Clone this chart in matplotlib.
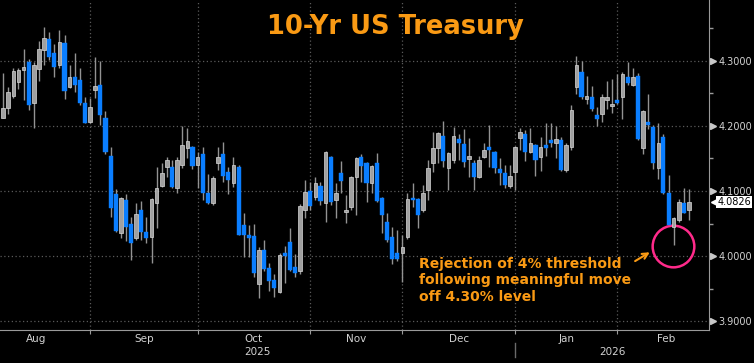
import numpy as np
import matplotlib
matplotlib.use("Agg")
import matplotlib.pyplot as plt
import matplotlib.transforms as mtransforms

# daily candles, 10-yr yield (%)
opens = [4.212, 4.228, 4.246, 4.268, 4.286, 4.298, 4.235, 4.288, 4.317, 4.334,
         4.312, 4.294, 4.328, 4.260, 4.275, 4.271, 4.235, 4.206, 4.255, 4.263,
         4.212, 4.154, 4.095, 4.035, 4.086, 4.049, 4.028, 4.071, 4.037, 4.029,
         4.082, 4.108, 4.137, 4.137, 4.105, 4.140, 4.166, 4.168, 4.140, 4.157,
         4.097, 4.082, 4.143, 4.157, 4.129, 4.112, 4.137, 4.048, 4.032, 4.031,
         3.957, 4.009, 3.982, 3.963, 3.945, 4.005, 4.022, 3.983, 3.977, 4.071,
         4.100, 4.091, 4.108, 4.082, 4.152, 4.086, 4.128, 4.068, 4.075, 4.122,
         4.152, 4.143, 4.112, 4.143, 4.089, 4.052, 4.029, 4.005, 4.005, 4.029,
         4.089, 4.088, 4.071, 4.102, 4.143, 4.166, 4.185, 4.135, 4.148, 4.180,
         4.172, 4.149, 4.143, 4.122, 4.152, 4.168, 4.160, 4.134, 4.128, 4.108,
         4.129, 4.182, 4.188, 4.160, 4.171, 4.152, 4.171, 4.178, 4.174, 4.178,
         4.132, 4.168, 4.260, 4.283, 4.242, 4.245, 4.217, 4.218, 4.240, 4.231,
         4.240, 4.245, 4.275, 4.263, 4.277, 4.166, 4.206, 4.198, 4.135, 4.183,
         4.097, 4.045, 4.055, 4.082, 4.071]
highs = [4.282, 4.260, 4.289, 4.289, 4.319, 4.303, 4.298, 4.331, 4.352, 4.345,
         4.326, 4.348, 4.340, 4.294, 4.312, 4.289, 4.245, 4.243, 4.306, 4.300,
         4.223, 4.168, 4.103, 4.091, 4.095, 4.060, 4.082, 4.085, 4.060, 4.089,
         4.137, 4.143, 4.152, 4.148, 4.152, 4.200, 4.197, 4.169, 4.160, 4.168,
         4.126, 4.123, 4.168, 4.175, 4.137, 4.152, 4.140, 4.066, 4.048, 4.049,
         4.014, 4.025, 3.989, 3.972, 4.005, 4.015, 4.043, 4.003, 4.080, 4.117,
         4.114, 4.122, 4.114, 4.162, 4.154, 4.112, 4.146, 4.094, 4.123, 4.152,
         4.157, 4.145, 4.140, 4.158, 4.091, 4.066, 4.045, 4.040, 4.032, 4.097,
         4.112, 4.089, 4.109, 4.148, 4.191, 4.191, 4.208, 4.160, 4.198, 4.188,
         4.195, 4.182, 4.148, 4.154, 4.174, 4.202, 4.162, 4.151, 4.140, 4.140,
         4.169, 4.197, 4.194, 4.197, 4.172, 4.183, 4.205, 4.205, 4.200, 4.183,
         4.174, 4.232, 4.308, 4.300, 4.277, 4.262, 4.229, 4.249, 4.269, 4.272,
         4.280, 4.283, 4.298, 4.289, 4.282, 4.225, 4.249, 4.202, 4.205, 4.188,
         4.125, 4.060, 4.088, 4.105, 4.103]
lows = [4.212, 4.218, 4.243, 4.257, 4.240, 4.225, 4.197, 4.269, 4.294, 4.302,
        4.275, 4.289, 4.242, 4.258, 4.252, 4.232, 4.205, 4.205, 4.243, 4.202,
        4.157, 4.060, 4.037, 4.028, 4.023, 3.994, 4.025, 4.025, 4.020, 3.989,
        4.043, 4.106, 4.122, 4.105, 4.097, 4.135, 4.151, 4.134, 4.105, 4.086,
        4.080, 4.078, 4.132, 4.114, 4.095, 4.106, 4.032, 3.998, 3.998, 3.968,
        3.935, 3.977, 3.946, 3.937, 3.943, 3.958, 3.977, 3.968, 3.972, 4.058,
        4.071, 4.086, 4.078, 4.052, 4.078, 4.058, 4.097, 4.051, 4.071, 4.063,
        4.114, 4.083, 4.097, 4.083, 4.035, 4.022, 3.988, 3.992, 3.960, 4.026,
        4.075, 4.043, 4.068, 4.086, 4.129, 4.143, 4.137, 4.102, 4.143, 4.148,
        4.137, 4.122, 4.102, 4.120, 4.151, 4.137, 4.128, 4.109, 4.105, 4.105,
        4.102, 4.163, 4.146, 4.158, 4.123, 4.131, 4.154, 4.168, 4.151, 4.131,
        4.129, 4.163, 4.249, 4.242, 4.234, 4.223, 4.200, 4.206, 4.226, 4.220,
        4.234, 4.211, 4.263, 4.262, 4.178, 4.157, 4.195, 4.134, 4.118, 4.095,
        4.046, 4.017, 4.052, 4.066, 4.055]
closes = [4.228, 4.252, 4.285, 4.286, 4.291, 4.232, 4.294, 4.319, 4.336, 4.306,
          4.291, 4.329, 4.254, 4.275, 4.263, 4.235, 4.205, 4.229, 4.262, 4.217,
          4.160, 4.074, 4.038, 4.089, 4.045, 4.020, 4.065, 4.037, 4.028, 4.088,
          4.105, 4.128, 4.148, 4.106, 4.148, 4.171, 4.177, 4.138, 4.152, 4.097,
          4.082, 4.120, 4.152, 4.123, 4.117, 4.140, 4.032, 4.032, 4.028, 3.974,
          4.009, 3.980, 3.962, 3.951, 4.002, 4.000, 3.978, 3.974, 4.077, 4.098,
          4.077, 4.112, 4.085, 4.160, 4.083, 4.097, 4.115, 4.071, 4.122, 4.151,
          4.138, 4.112, 4.138, 4.085, 4.063, 4.025, 3.995, 3.995, 4.014, 4.088,
          4.086, 4.063, 4.097, 4.135, 4.166, 4.189, 4.146, 4.158, 4.185, 4.174,
          4.145, 4.154, 4.122, 4.148, 4.163, 4.163, 4.135, 4.128, 4.109, 4.123,
          4.168, 4.191, 4.160, 4.174, 4.148, 4.168, 4.166, 4.174, 4.180, 4.132,
          4.171, 4.225, 4.294, 4.245, 4.246, 4.226, 4.211, 4.245, 4.245, 4.234,
          4.235, 4.280, 4.266, 4.275, 4.180, 4.223, 4.202, 4.143, 4.174, 4.097,
          4.048, 4.058, 4.083, 4.066, 4.0826]

# trading-day index where each month starts (Aug..Mar)
month_starts = [-4, 17, 38, 60, 78, 100, 120, 139]
month_names = ['Aug', 'Sep', 'Oct', 'Nov', 'Dec', 'Jan', 'Feb']
years = ['2025', '2026']
year_split = 100
yticks = [3.9, 4.0, 4.1, 4.2, 4.3, 4.4]
last_price = closes[-1]

title = '10-Yr US Treasury'
note = 'Rejection of 4% threshold\nfollowing meaningful move\noff 4.30% level'

ORANGE = '#fa9a14'
BLUE = '#0a7eff'
AXIS = '#9a9a9a'
TXT = '#d2d2d2'

o = np.array(opens); h = np.array(highs); l = np.array(lows); c = np.array(closes)
x = np.arange(len(o))
down = c < o

fig = plt.figure(figsize=(7.54, 3.63), dpi=100, facecolor='black')
ax = fig.add_axes([0, 33 / 363, 709 / 754, 330 / 363])
ax.set_facecolor('black')

ax.set_xlim(-0.6, 137.9)
ax.set_ylim(3.8862, 4.3938)

# grid
for yt in yticks[:-1]:
    ax.axhline(yt, color='#5a5a5a', lw=0.9, ls=(0, (1, 2)), zorder=0)
for ms in month_starts[1:-1]:
    ax.axvline(ms, color='#5a5a5a', lw=0.9, ls=(0, (1, 2)), zorder=0)

# candles
ax.vlines(x, l, h, color='#939393', lw=1.0, zorder=2)
body_lo = np.minimum(o, c)
body_h = np.maximum(np.abs(c - o), 0.003)
ax.bar(x[down], body_h[down], bottom=body_lo[down], width=0.8,
       color=BLUE, edgecolor=BLUE, lw=0.3, zorder=3)
ax.bar(x[~down], body_h[~down], bottom=body_lo[~down], width=0.7,
       color='#a0a0a0', edgecolor='#d8d8d8', lw=0.5, zorder=3)

# spines
for s in ['top', 'left']:
    ax.spines[s].set_visible(False)
ax.spines['right'].set_color(AXIS)
ax.spines['bottom'].set_color(AXIS)

# y axis on the right
ax.yaxis.tick_right()
ax.set_yticks(yticks[:-1])
ax.set_yticklabels(['%.4f' % v for v in yticks[:-1]])
ax.set_yticks([v + 0.05 for v in yticks[:-1]], minor=True)
ax.tick_params(axis='y', which='major', length=0, pad=7, labelsize=7, labelcolor=TXT)
ax.tick_params(axis='y', which='minor', length=3, color=AXIS, width=1)
ytr = mtransforms.blended_transform_factory(ax.transAxes, ax.transData)
ax.plot([1.006] * (len(yticks) - 1), yticks[:-1], ls='none', marker='>', ms=4.5,
        color='#c8c8c8', transform=ytr, clip_on=False)
ax.text(1.0105, yticks[-1], '%.4f' % yticks[-1], transform=ytr, fontsize=7,
        color=TXT, va='center', ha='left', clip_on=False)

# x axis: month ticks at boundaries, labels in the middle
ax.set_xticks(month_starts[1:-1])
ax.set_xticklabels([])
mids = [(a + b) / 2 for a, b in zip(month_starts[:-1], month_starts[1:])]
ax.set_xticks(mids, minor=True)
ax.set_xticklabels(month_names, minor=True)
ax.tick_params(axis='x', which='major', length=3, color=AXIS, direction='out')
ax.tick_params(axis='x', which='minor', length=0, pad=3, labelsize=7.5, labelcolor=TXT)

xtr = ax.get_xaxis_transform()
ax.text((-0.6 + year_split) / 2, -0.068, years[0], transform=xtr, ha='center',
        va='center', fontsize=7.5, color=TXT)
ax.text((year_split + 137.9) / 2, -0.068, years[1], transform=xtr, ha='center',
        va='center', fontsize=7.5, color=TXT)
ax.plot([year_split, year_split], [-0.04, -0.083], color='#6a6a6a', lw=1,
        transform=xtr, clip_on=False)

# last price tag
ax.text(139.5, last_price, '%.4f' % last_price, fontsize=7, color='black',
        va='center', ha='left', clip_on=False,
        bbox=dict(boxstyle='square,pad=0.12', fc='white', ec='none'))
ax.plot([138.9], [last_price], marker='<', ms=5, color='white', clip_on=False)

# title and annotation
ax.text(0.558, 0.918, title, transform=ax.transAxes, ha='center', va='center',
        fontsize=18.5, fontweight='bold', color=ORANGE)
ax.text(81.2, 3.999, note, ha='left', va='top', fontsize=10, fontweight='bold',
        color=ORANGE, linespacing=1.25)
ax.annotate('', xy=(126.8, 4.008), xytext=(123.0, 3.990),
            arrowprops=dict(arrowstyle='->', color=ORANGE, lw=1.5))
ax.plot([130.9], [4.015], marker='o', ms=30, mfc='none', mec='#ff2a8a', mew=1.8)

fig.savefig('out.png', dpi=100, facecolor='black')
